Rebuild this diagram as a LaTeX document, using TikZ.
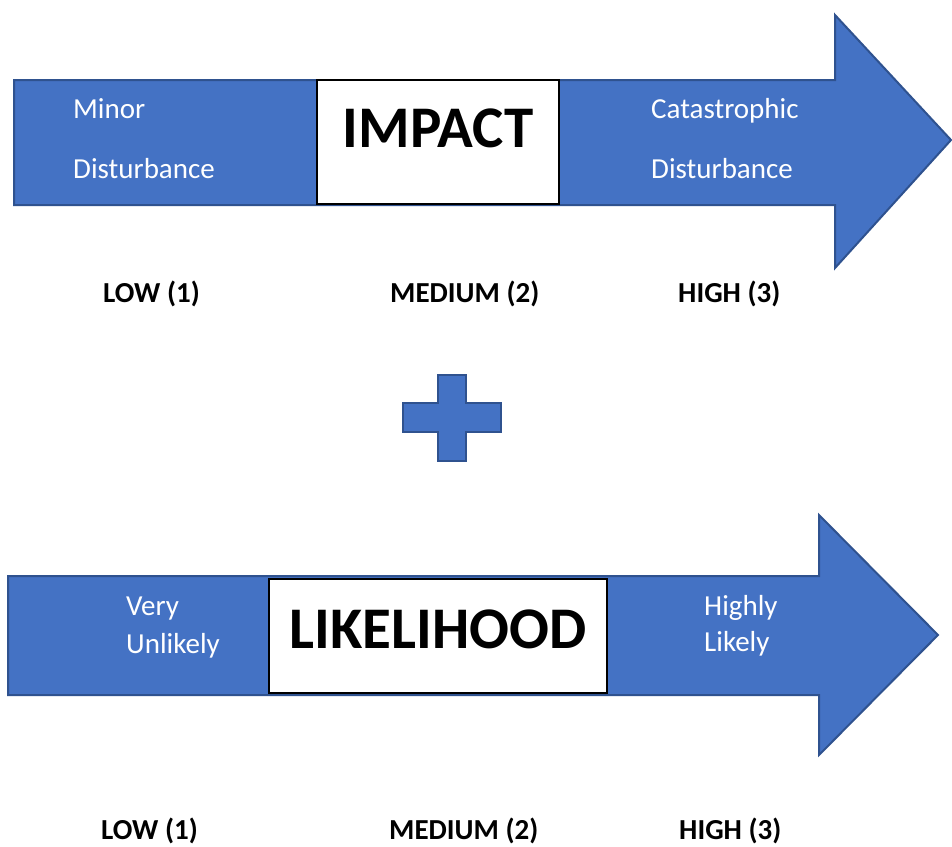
\documentclass[tikz,border=0pt]{standalone}
\usepackage{fontspec}
\setmainfont{Carlito}
\definecolor{arrowfill}{HTML}{4472C4}
\definecolor{arrowline}{HTML}{2F528F}
\begin{document}
\begin{tikzpicture}[x=1pt,y=-1pt,
  bigarrow/.style={fill=arrowfill,draw=arrowline,line width=2pt,line join=miter},
  titlebox/.style={fill=white,draw=black,line width=1.3pt},
  intext/.style={anchor=base west,inner sep=0pt,text=white,font=\fontsize{29}{34}\selectfont},
  title/.style={anchor=base,inner sep=0pt,font=\fontsize{59}{70}\selectfont\bfseries},
  level/.style={anchor=base west,inner sep=0pt,font=\fontsize{29}{34}\selectfont\bfseries}]
\useasboundingbox (0,0) rectangle (952,846);
% top arrow
\draw[bigarrow] (14,80) -- (835,80) -- (835,15) -- (951,140) -- (835,268) -- (835,205) -- (14,205) -- cycle;
\draw[titlebox] (317,80) rectangle (559,204);
\node[title] (impact) at (438,147) {IMPACT};
\node[intext] (minor) at (73,118) {Minor};
\node[intext] (dist1) at (73,178) {Disturbance};
\node[intext] (cat) at (651,118) {Catastrophic};
\node[intext] (dist2) at (651,178) {Disturbance};
\node[level] (low1) at (103,302) {LOW (1)};
\node[level] (med1) at (390,302) {MEDIUM (2)};
\node[level] (high1) at (678,302) {HIGH (3)};
% plus
\draw[bigarrow] (438,375) -- (466,375) -- (466,403) -- (501,403) -- (501,432) -- (466,432) -- (466,461) -- (438,461) -- (438,432) -- (403,432) -- (403,403) -- (438,403) -- cycle;
% bottom arrow
\draw[bigarrow] (8,576) -- (819,576) -- (819,515) -- (938,635) -- (819,755) -- (819,695) -- (8,695) -- cycle;
\draw[titlebox] (269,579) rectangle (607,693);
\node[title] (likeli) at (438,648) {LIKELIHOOD};
\node[intext] (very) at (126,615) {Very};
\node[intext] (unlik) at (126,653) {Unlikely};
\node[intext] (highly) at (704,615) {Highly};
\node[intext] (likely) at (704,651) {Likely};
\node[level] (low2) at (101,839) {LOW (1)};
\node[level] (med2) at (389,839) {MEDIUM (2)};
\node[level] (high2) at (679,839) {HIGH (3)};
\end{tikzpicture}
\end{document}
